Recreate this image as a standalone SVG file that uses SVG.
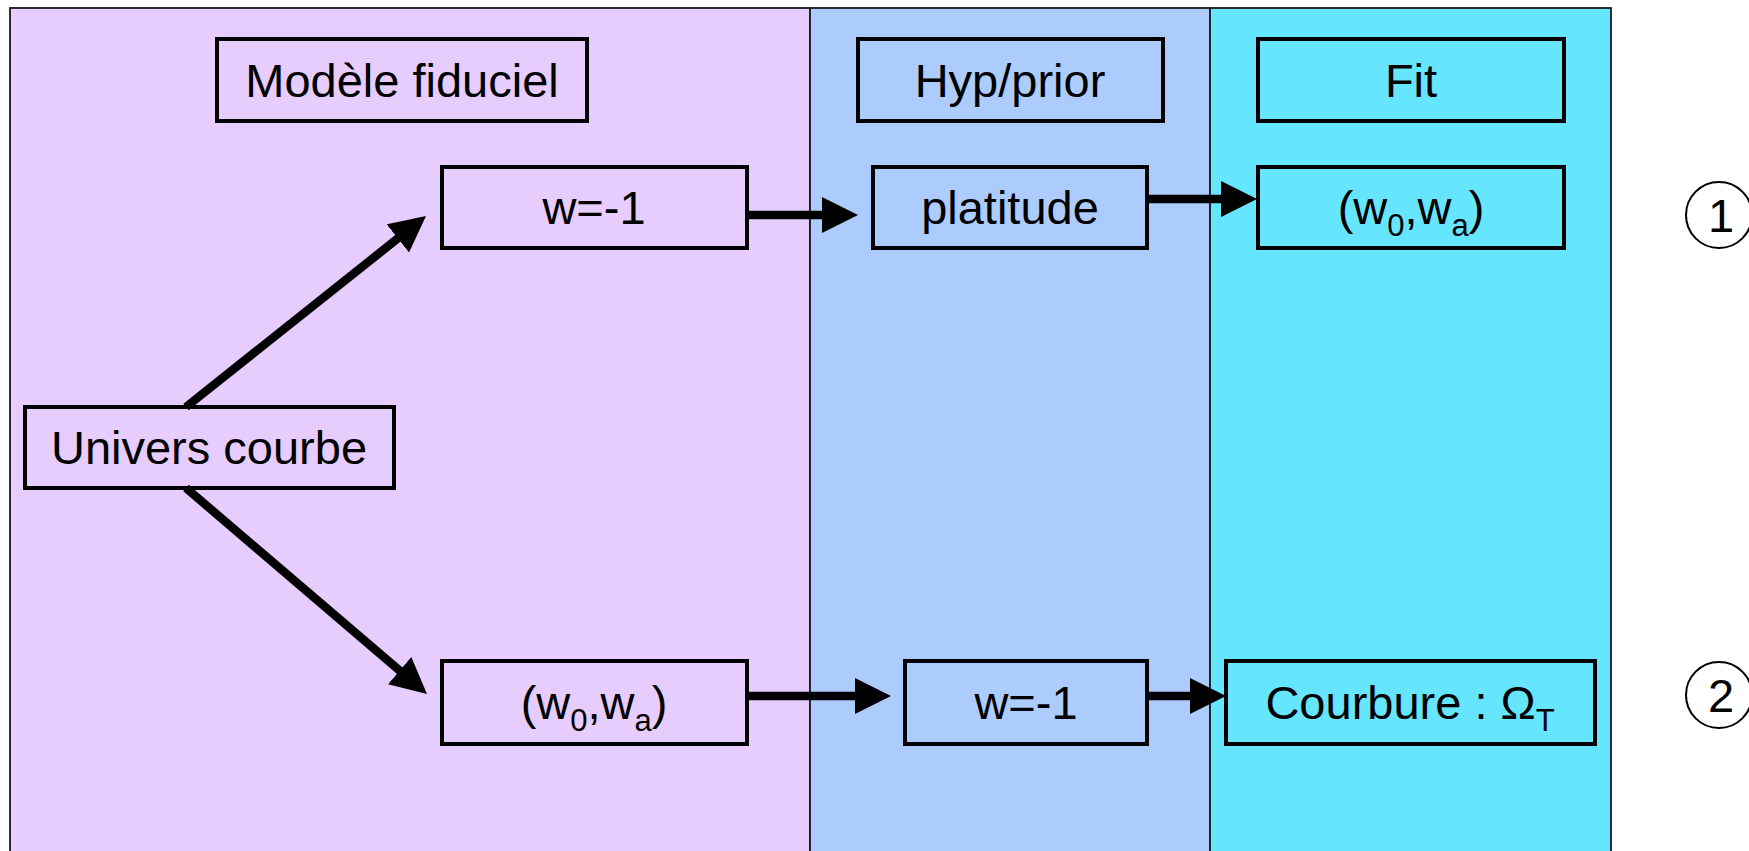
<svg xmlns="http://www.w3.org/2000/svg" width="1749" height="851" viewBox="0 0 1749 851">
<defs>
<style>
.panel{stroke:#1a1a1a;stroke-width:1.8}
.box{fill:none;stroke:#000;stroke-width:4}
.t{font-family:"Liberation Sans",Arial,sans-serif;font-size:47px;fill:#000;text-anchor:middle}
.sub{font-size:31px}
.conn{stroke:#000;stroke-width:8.5;fill:none;marker-end:url(#ah)}
.num{fill:none;stroke:#000;stroke-width:2}
</style>
<marker id="ah" markerUnits="userSpaceOnUse" viewBox="0 0 36 36" refX="18" refY="18" markerWidth="36" markerHeight="36" orient="auto">
<path d="M0,0 L36,18 L0,36 z" fill="#000"/>
</marker>
</defs>
<rect width="1749" height="851" fill="#fff"/>
<g id="panels">
<rect class="panel" x="10" y="8" width="800" height="860" fill="#E7CCFE"/>
<rect class="panel" x="810" y="8" width="400" height="860" fill="#ADCCFE"/>
<rect class="panel" x="1210" y="8" width="401" height="860" fill="#66E5FE"/>
</g>
<g id="node-modele">
<rect class="box" x="217" y="39" width="370" height="82"/>
<text class="t" x="402" y="97">Modèle fiduciel</text>
</g>
<g id="node-hyp">
<rect class="box" x="858" y="39" width="305" height="82"/>
<text class="t" x="1010" y="97">Hyp/prior</text>
</g>
<g id="node-fit">
<rect class="box" x="1258" y="39" width="306" height="82"/>
<text class="t" x="1411" y="97">Fit</text>
</g>
<g id="node-w1-top">
<rect class="box" x="442" y="167" width="305" height="81"/>
<text class="t" x="594" y="224">w=-1</text>
</g>
<g id="node-platitude">
<rect class="box" x="873" y="167" width="274" height="81"/>
<text class="t" x="1010" y="224">platitude</text>
</g>
<g id="node-w0wa-top">
<rect class="box" x="1258" y="167" width="306" height="81"/>
<text class="t" x="1411" y="224">(w<tspan class="sub" dy="12">0</tspan><tspan dy="-12">,w</tspan><tspan class="sub" dy="12">a</tspan><tspan dy="-12">)</tspan></text>
</g>
<g id="node-univers">
<rect class="box" x="25" y="407" width="369" height="81"/>
<text class="t" x="209" y="464">Univers courbe</text>
</g>
<g id="node-w0wa-bot">
<rect class="box" x="442" y="661" width="305" height="83"/>
<text class="t" x="594" y="719">(w<tspan class="sub" dy="12">0</tspan><tspan dy="-12">,w</tspan><tspan class="sub" dy="12">a</tspan><tspan dy="-12">)</tspan></text>
</g>
<g id="node-w1-bot">
<rect class="box" x="905" y="661" width="242" height="83"/>
<text class="t" x="1026" y="719">w=-1</text>
</g>
<g id="node-courbure">
<rect class="box" x="1226" y="661" width="369" height="83"/>
<text class="t" x="1410" y="719">Courbure : Ω<tspan class="sub" dy="12">T</tspan></text>
</g>
<g id="label-1">
<circle class="num" cx="1719" cy="215" r="33"/>
<text class="t" x="1721" y="232">1</text>
</g>
<g id="label-2">
<circle class="num" cx="1719" cy="695" r="33"/>
<text class="t" x="1721" y="712">2</text>
</g>
<g id="connectors">
<line class="conn" x1="186" y1="407" x2="411.9" y2="227.2"/>
<line class="conn" x1="186" y1="488" x2="413.3" y2="682.3"/>
<line class="conn" x1="747" y1="215" x2="840" y2="215"/>
<line class="conn" x1="1147" y1="199" x2="1239" y2="199"/>
<line class="conn" x1="747" y1="696" x2="873" y2="696"/>
<line class="conn" x1="1147" y1="696" x2="1208" y2="696"/>
</g>
</svg>
